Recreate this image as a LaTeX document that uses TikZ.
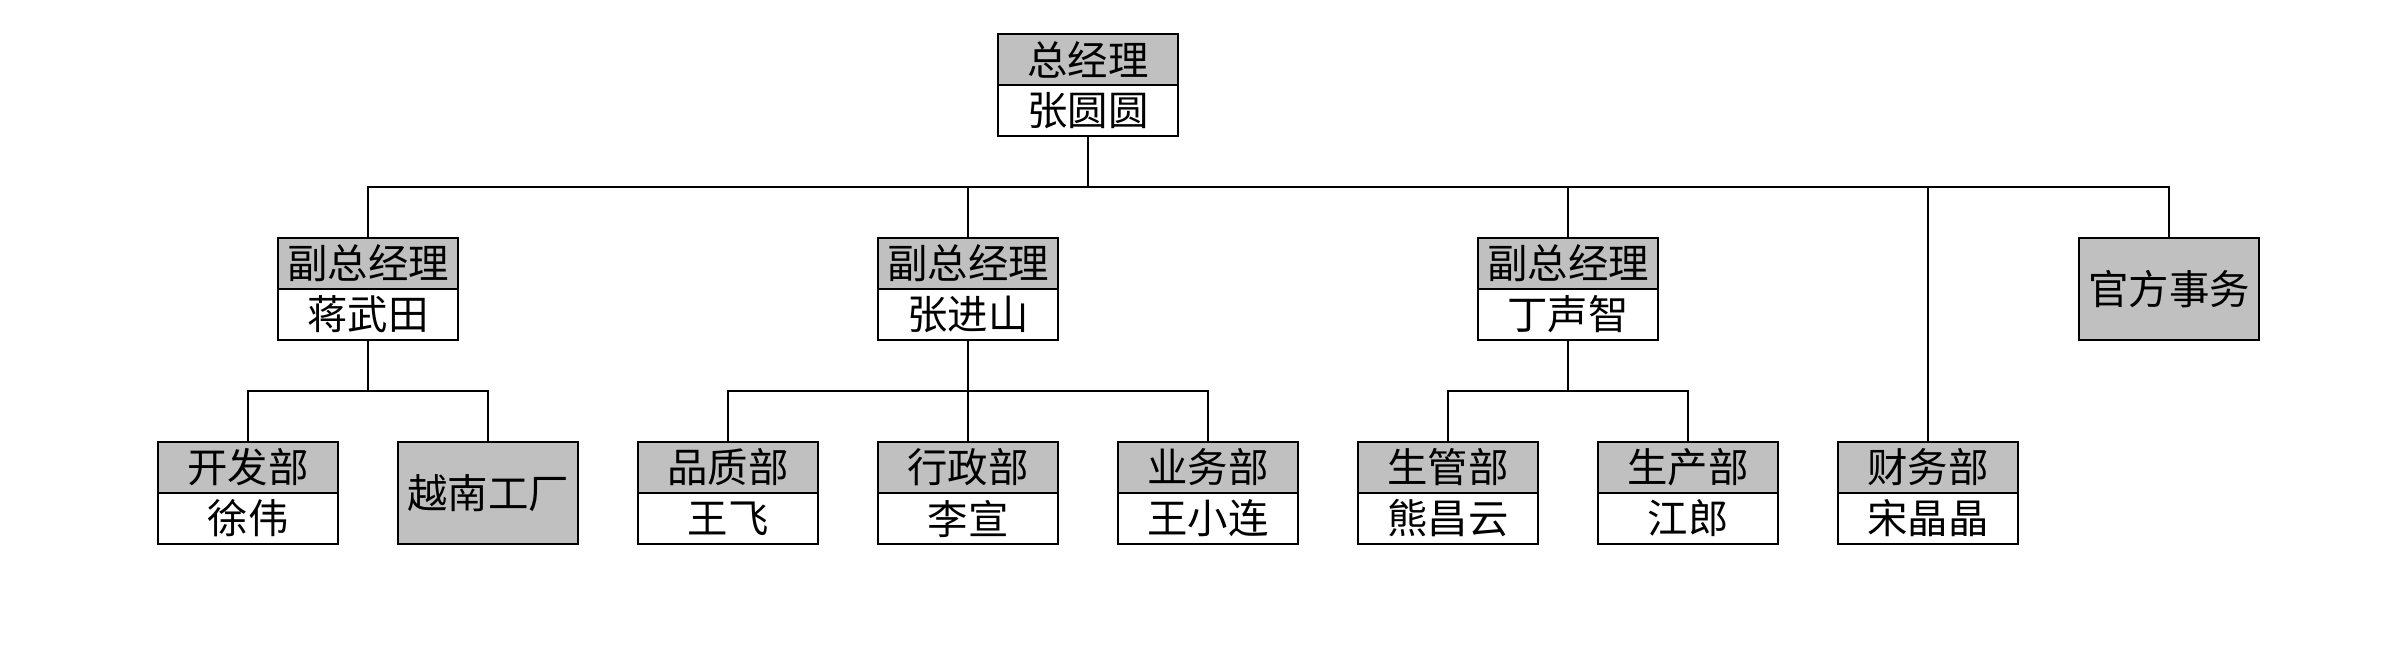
\documentclass[tikz,border=0pt]{standalone}
\usepackage{fontspec}
\newfontfamily\cjk{Noto Sans CJK SC}
\usetikzlibrary{positioning}
\definecolor{cellgray}{RGB}{192,192,192}
\tikzset{
  cell/.style={draw, line width=0.4pt, minimum width=1.8cm, minimum height=0.51cm,
    inner sep=0pt, outer sep=0pt, font=\cjk\fontsize{11.5pt}{12pt}\selectfont},
  titlebox/.style={cell, fill=cellgray},
  namebox/.style={cell, fill=white},
  solebox/.style={cell, fill=cellgray, minimum height=1.02cm},
  link/.style={line width=0.4pt}
}
\begin{document}
\begin{tikzpicture}
  \useasboundingbox (0,0) rectangle (23.95,6.46);

  % Draw the general manager
  \node[titlebox] (gm) at (10.88,5.865) {总经理};
  \node[namebox, below=0pt of gm] (gmn) {张圆圆};

  % Draw the deputies and the office
  \node[titlebox] (vpa) at (3.68,3.825) {副总经理};
  \node[namebox, below=0pt of vpa] (vpan) {蒋武田};
  \node[titlebox] (vpb) at (9.68,3.825) {副总经理};
  \node[namebox, below=0pt of vpb] (vpbn) {张进山};
  \node[titlebox] (vpc) at (15.68,3.825) {副总经理};
  \node[namebox, below=0pt of vpc] (vpcn) {丁声智};
  \node[solebox] (office) at (21.69,3.57) {官方事务};

  % Draw the departments
  \node[titlebox] (dev) at (2.48,1.785) {开发部};
  \node[namebox, below=0pt of dev] (devn) {徐伟};
  \node[solebox] (plant) at (4.88,1.53) {越南工厂};
  \node[titlebox] (qa) at (7.28,1.785) {品质部};
  \node[namebox, below=0pt of qa] (qan) {王飞};
  \node[titlebox] (adm) at (9.68,1.785) {行政部};
  \node[namebox, below=0pt of adm] (admn) {李宣};
  \node[titlebox] (sales) at (12.08,1.785) {业务部};
  \node[namebox, below=0pt of sales] (salesn) {王小连};
  \node[titlebox] (pmc) at (14.48,1.785) {生管部};
  \node[namebox, below=0pt of pmc] (pmcn) {熊昌云};
  \node[titlebox] (prod) at (16.88,1.785) {生产部};
  \node[namebox, below=0pt of prod] (prodn) {江郎};
  \node[titlebox] (fin) at (19.28,1.785) {财务部};
  \node[namebox, below=0pt of fin] (finn) {宋晶晶};

  % Draw the connectors
  \draw[link] (gmn.south) -- ++(0,-0.51) -| (vpa.north);
  \draw[link] (gmn.south) -- ++(0,-0.51) -| (vpb.north);
  \draw[link] (gmn.south) -- ++(0,-0.51) -| (vpc.north);
  \draw[link] (gmn.south) -- ++(0,-0.51) -| (office.north);
  \draw[line width=0.3pt] (gmn.south) ++(0,-0.51) -| (fin.north);
  \draw[link] (vpan.south) -- ++(0,-0.51) -| (dev.north);
  \draw[link] (vpan.south) -- ++(0,-0.51) -| (plant.north);
  \draw[link] (vpbn.south) -- ++(0,-0.51) -| (qa.north);
  \draw[link] (vpbn.south) -- (adm.north);
  \draw[link] (vpbn.south) -- ++(0,-0.51) -| (sales.north);
  \draw[link] (vpcn.south) -- ++(0,-0.51) -| (pmc.north);
  \draw[link] (vpcn.south) -- ++(0,-0.51) -| (prod.north);
\end{tikzpicture}
\end{document}
